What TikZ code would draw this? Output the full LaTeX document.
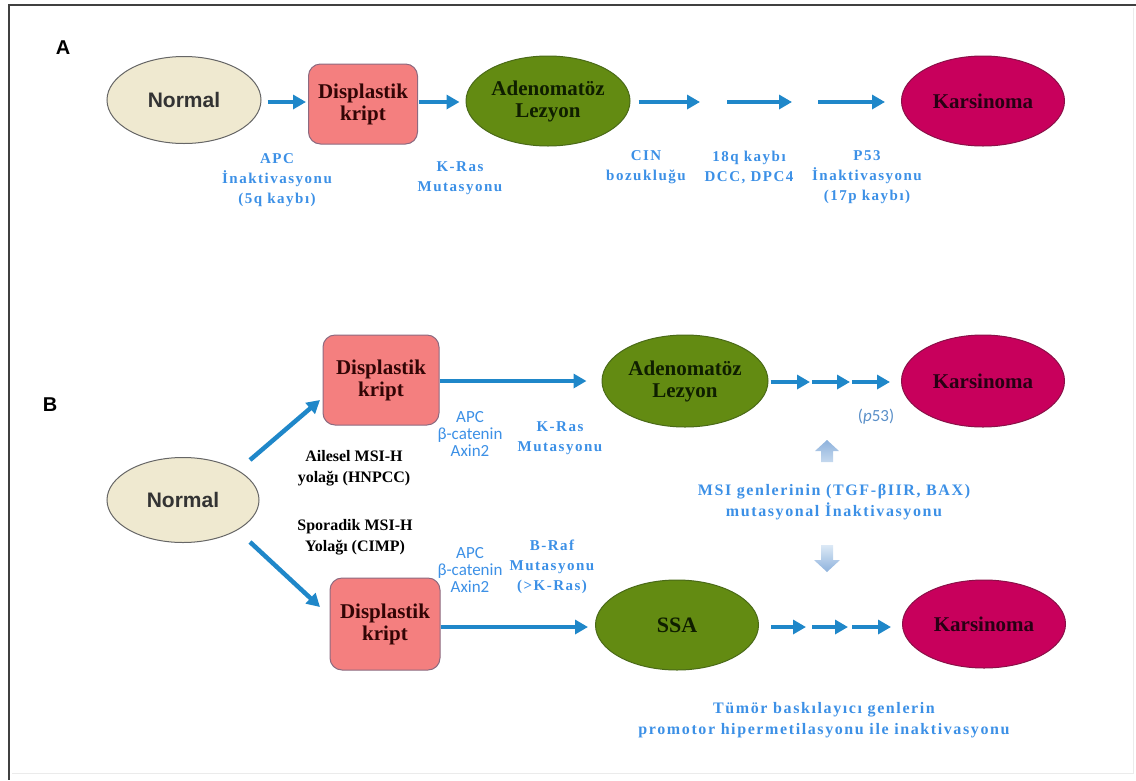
\documentclass[tikz,border=0pt]{standalone}
\usepackage{fontspec}
\setmainfont{Liberation Serif}
\newfontfamily\arialf{Liberation Sans}
\newfontfamily\calib{Carlito}
\newfontfamily\serifsp[LetterSpace=10]{Liberation Serif}
\usetikzlibrary{shapes.geometric,arrows.meta}
\definecolor{normfill}{HTML}{EFE9D0}
\definecolor{dispfill}{HTML}{F47F7F}
\definecolor{dispdraw}{HTML}{8C6A80}
\definecolor{greenfill}{HTML}{638B12}
\definecolor{greendraw}{HTML}{4A6A18}
\definecolor{karfill}{HTML}{C8005C}
\definecolor{kardraw}{HTML}{8A1048}
\definecolor{arrblue}{HTML}{1F87C9}
\definecolor{lblblue}{HTML}{3C90E6}
\definecolor{pblue}{HTML}{5A8FC8}
\definecolor{fatlight}{HTML}{DCE9F6}
\definecolor{fatdark}{HTML}{8EB2DC}
\begin{document}
\begin{tikzpicture}[x=1pt,y=-1pt,
  normal/.style={ellipse, draw=black!60, line width=1pt, fill=normfill, inner sep=0pt,
    minimum width=154pt, minimum height=87pt, text=black!80,
    font=\arialf\bfseries\fontsize{21}{21}\selectfont},
  disp/.style={rectangle, rounded corners=12pt, draw=dispdraw, line width=1pt, fill=dispfill,
    inner sep=0pt, minimum width=109pt, minimum height=80pt, align=center, text={rgb,255:red,50;green,5;blue,5},
    font=\bfseries\fontsize{21}{22}\selectfont},
  green/.style={ellipse, draw=greendraw, line width=1pt, fill=greenfill, inner sep=0pt,
    minimum width=164pt, minimum height=90pt, align=center, text={rgb,255:red,15;green,30;blue,0},
    font=\bfseries\fontsize{21}{22}\selectfont},
  kars/.style={ellipse, draw=kardraw, line width=1pt, fill=karfill, inner sep=0pt,
    minimum width=163pt, minimum height=90pt, text={rgb,255:red,40;green,0;blue,20},
    font=\bfseries\fontsize{21}{21}\selectfont},
  arr/.style={draw=arrblue, line width=4.5pt, -{Triangle[length=13pt,width=14pt]}},
  lbl/.style={text=lblblue, align=center, inner sep=0pt, font=\serifsp\bfseries\fontsize{15}{20}\selectfont},
  slbl/.style={text=lblblue, align=center, inner sep=0pt, font=\calib\fontsize{17}{17}\selectfont},
  blk/.style={text=black, align=center, inner sep=0pt, font=\bfseries\fontsize{16}{21}\selectfont},
  big/.style={text=lblblue, align=center, inner sep=0pt, font=\serifsp\bfseries\fontsize{16}{21}\selectfont},
  sec/.style={inner sep=0pt, font=\arialf\bfseries\fontsize{20}{20}\selectfont}
]
\useasboundingbox (0,0) rectangle (1136,780);
% frame
\draw[line width=2.5pt, black!75] (1136,5) -- (9,5) -- (9,780);
\draw[line width=1pt, black!8] (1133,8) -- (1133,773) -- (12,773);

% ---------- A ----------
\node[sec] (labA) at (63,48) {A};
\node[normal] (nA) at (184,100) {Normal};
\node[disp] (dA) at (363,104) {Displastik\\kript};
\node[green] (gA) at (548,101) {Adenomatöz\\Lezyon};
\node[kars] (kA) at (983,101) {Karsinoma};
\coordinate (a1e) at (700,102);
\coordinate (a2s) at (727,102);
\coordinate (a2e) at (792,102);
\coordinate (a3s) at (818,102);
\draw[arr, shorten <=6pt, shorten >=2pt] (nA.east |- 0,102) -- (dA.west |- 0,102);
\draw[arr, shorten <=1pt, shorten >=6pt] (dA.east |- 0,102) -- (gA.west |- 0,102);
\draw[arr, shorten <=8pt] (gA.east |- 0,102) -- (a1e);
\draw[arr] (a2s) -- (a2e);
\draw[arr, shorten >=16pt] (a3s) -- (kA.west |- 0,102);

\node[lbl] (lA1) at (277,180) {APC\\İnaktivasyonu\\(5q kaybı)};
\node[lbl] (lA2) at (460,178) {K-Ras\\Mutasyonu};
\node[lbl] (lA3) at (646,167.5) {CIN\\bozukluğu};
\node[lbl] (lA4) at (749,167.5) {18q kaybı\\DCC, DPC4};
\node[lbl] (lA5) at (867,177) {P53\\İnaktivasyonu\\(17p kaybı)};

% ---------- B ----------
\node[sec] (labB) at (50,405) {B};
\node[normal, minimum width=152pt, minimum height=85pt] (nB) at (183,500) {Normal};
\node[disp, minimum width=116pt, minimum height=90pt] (dT) at (381,380) {Displastik\\kript};
\node[disp, minimum width=110pt, minimum height=92pt] (dB) at (385,624) {Displastik\\kript};
\node[green, minimum width=166pt, minimum height=92pt] (gB) at (685,381) {Adenomatöz\\Lezyon};
\node[green, minimum width=163pt, minimum height=90pt, font=\bfseries\fontsize{22}{22}\selectfont] (sB) at (677,625) {SSA};
\node[kars, minimum height=92pt] (kT) at (983,381) {Karsinoma};
\node[kars, minimum height=88pt] (kB) at (984,624) {Karsinoma};

\coordinate (u1) at (250,460);
\coordinate (u2) at (320,400);
\coordinate (w1) at (250,542);
\coordinate (w2) at (320,607);
\draw[arr] (u1) -- (u2);
\draw[arr] (w1) -- (w2);

\draw[arr, shorten >=15pt] (dT.east |- 0,381) -- (gB.west |- 0,381);
\draw[arr, shorten >=7pt] (dB.east |- 0,627) -- (sB.west |- 0,627);

\coordinate (t1e) at (810,382);
\coordinate (t2s) at (812,382);
\coordinate (t2e) at (850,382);
\coordinate (t3s) at (852,382);
\draw[arr, shorten <=2pt] (gB.east |- 0,382) -- (t1e);
\draw[arr] (t2s) -- (t2e);
\draw[arr, shorten >=11pt] (t3s) -- (kT.west |- 0,382);

\coordinate (b1e) at (806,627);
\coordinate (b2s) at (812,627);
\coordinate (b2e) at (848,627);
\coordinate (b3s) at (852,627);
\draw[arr, shorten <=12pt] (sB.east |- 0,627) -- (b1e);
\draw[arr] (b2s) -- (b2e);
\draw[arr, shorten >=11pt] (b3s) -- (kB.west |- 0,627);

\node[slbl] (lB1) at (470,434) {APC\\β-catenin\\Axin2};
\node[lbl] (lB2) at (560,438) {K-Ras\\Mutasyonu};
\node[slbl] (lB3) at (470,570) {APC\\β-catenin\\Axin2};
\node[lbl] (lB4) at (552,567) {B-Raf\\Mutasyonu\\(>K-Ras)};
\node[blk] (lB5) at (354,468) {Ailesel MSI-H\\yolağı (HNPCC)};
\node[blk] (lB6) at (355,537) {Sporadik MSI-H\\Yolağı (CIMP)};
\node[inner sep=0pt, text=pblue, font=\calib\fontsize{17}{17}\selectfont] (p53) at (876,417) {(\textit{p}53)};
\node[big] (msi) at (834,502.5) {MSI genlerinin (TGF-βIIR, BAX)\\mutasyonal İnaktivasyonu};
\node[big] (tum) at (824,720) {Tümör baskılayıcı genlerin\\promotor hipermetilasyonu ile inaktivasyonu};

% fat arrows
\shade[top color=fatdark, bottom color=fatlight!70!fatdark]
  (827,440) -- (839,451) -- (833,451) -- (833,462) -- (821,462) -- (821,451) -- (815,451) -- cycle;
\shade[top color=fatlight, bottom color=fatdark]
  (821,545) -- (833,545) -- (833,560) -- (840,560) -- (827,572) -- (814,560) -- (821,560) -- cycle;
\end{tikzpicture}
\end{document}
